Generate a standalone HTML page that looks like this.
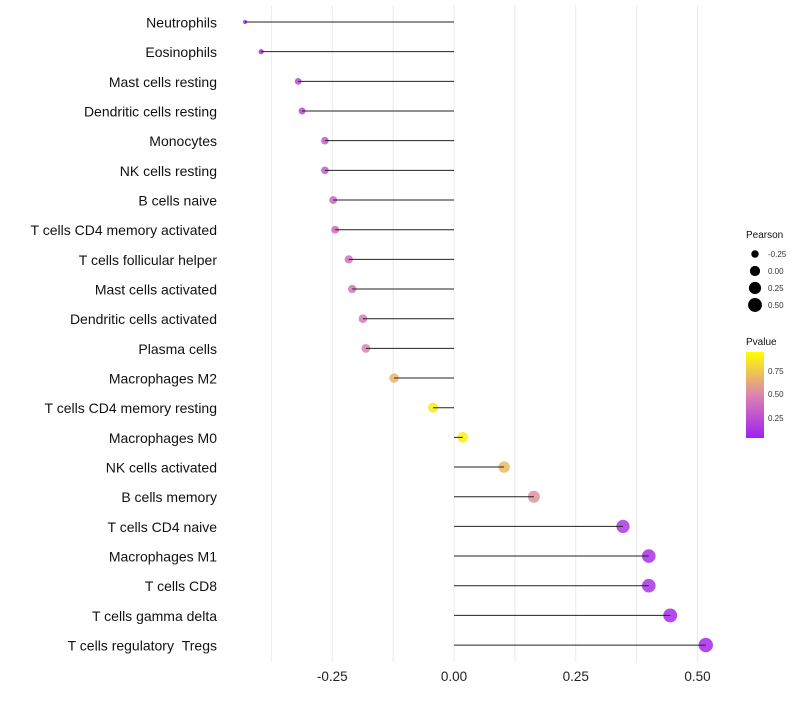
<!DOCTYPE html>
<html><head><meta charset="utf-8"><style>
body{margin:0;background:#fff;font-family:"Liberation Sans",sans-serif}
</style></head><body>
<svg id="chart" width="800" height="700" xmlns="http://www.w3.org/2000/svg" font-family="Liberation Sans, sans-serif">
<g id="grid"></g><g id="dots"></g><g id="marks"></g><g id="ylab"></g><g id="xlab"></g>
<g>
<text x="746" y="238" font-size="10" fill="#111">Pearson</text>
<g id="sizeLeg"></g>
</g>
<g>
<text x="746" y="345" font-size="10" fill="#111">Pvalue</text>
<defs><linearGradient id="pg" x1="0" y1="1" x2="0" y2="0">
<stop offset="0" stop-color="#a020f0"/><stop offset="0.5" stop-color="#dc84b0"/><stop offset="1" stop-color="#ffff00"/></linearGradient></defs>
<rect x="746" y="352" width="18" height="86" fill="url(#pg)"/>
<text x="768" y="374" font-size="8" fill="#333">0.75</text>
<text x="768" y="397" font-size="8" fill="#333">0.50</text>
<text x="768" y="421" font-size="8" fill="#333">0.25</text>
</g>
</svg>
<script>
const categories=["Neutrophils","Eosinophils","Mast cells resting","Dendritic cells resting","Monocytes","NK cells resting","B cells naive","T cells CD4 memory activated","T cells follicular helper","Mast cells activated","Dendritic cells activated","Plasma cells","Macrophages M2","T cells CD4 memory resting","Macrophages M0","NK cells activated","B cells memory","T cells CD4 naive","Macrophages M1","T cells CD8","T cells gamma delta","T cells regulatory\u00a0\u00a0Tregs"];
const pearson=[-0.429,-0.396,-0.320,-0.312,-0.265,-0.265,-0.248,-0.244,-0.216,-0.209,-0.187,-0.181,-0.123,-0.043,0.018,0.103,0.164,0.347,0.400,0.400,0.444,0.517];
const pvalue=[0.05,0.08,0.2,0.2,0.3,0.3,0.35,0.38,0.4,0.42,0.45,0.48,0.7,0.92,0.94,0.72,0.55,0.12,0.08,0.1,0.06,0.04];
const xTicks=[-0.25,0,0.25,0.5];
const xTickLabels=["-0.25","0.00","0.25","0.50"];
const sizeLegVals=[-0.25,0,0.25,0.5];
const sizeLegLabels=["-0.25","0.00","0.25","0.50"];
const NS="http://www.w3.org/2000/svg";
const xs=v=>454+v*487;
const ys=i=>22+i*29.67;
const rs=v=>Math.sqrt(Math.max(0,(v+0.45))/0.97)*6+1.5;
function lerp(a,b,t){return a.map((x,i)=>Math.round(x+(b[i]-x)*t));}
function col(p){const a=[160,32,240],m=[220,132,176],y=[255,255,0];let c=p<0.5?lerp(a,m,p/0.5):lerp(m,y,(p-0.5)/0.5);return `rgb(${c})`;}
function mk(t,at,parent){const e=document.createElementNS(NS,t);for(const k in at)e.setAttribute(k,at[k]);document.getElementById(parent).appendChild(e);return e;}
for(let v=-0.375;v<=0.5001;v+=0.125){const g=mk("line",{x1:xs(v),x2:xs(v),y1:5,y2:662,stroke:"#ebebeb","stroke-width":1},"grid");

}
categories.forEach((c,i)=>{
const l=mk("line",{x1:xs(pearson[i]),x2:xs(0),y1:ys(i),y2:ys(i),stroke:"#222","stroke-width":1},"marks");


const d=mk("circle",{cx:xs(pearson[i]),cy:ys(i),r:rs(pearson[i])-0.3,fill:col(pvalue[i]),"fill-opacity":0.85},"dots");


const t=mk("text",{x:217,y:ys(i)+5.5,"text-anchor":"end","font-size":14,fill:"#111"},"ylab");t.textContent=c;


});
xTicks.forEach((v,i)=>{const t=mk("text",{x:xs(v),y:681,"text-anchor":"middle","font-size":13.5,fill:"#222"},"xlab");t.textContent=xTickLabels[i];

});
sizeLegVals.forEach((v,i)=>{const y=254+i*17;
const c=mk("circle",{cx:755,cy:y,r:rs(v)-0.5,fill:"#000"},"sizeLeg");


const t=mk("text",{x:768,y:y+3,"font-size":8,fill:"#333"},"sizeLeg");t.textContent=sizeLegLabels[i];

});
</script>
</body></html>
